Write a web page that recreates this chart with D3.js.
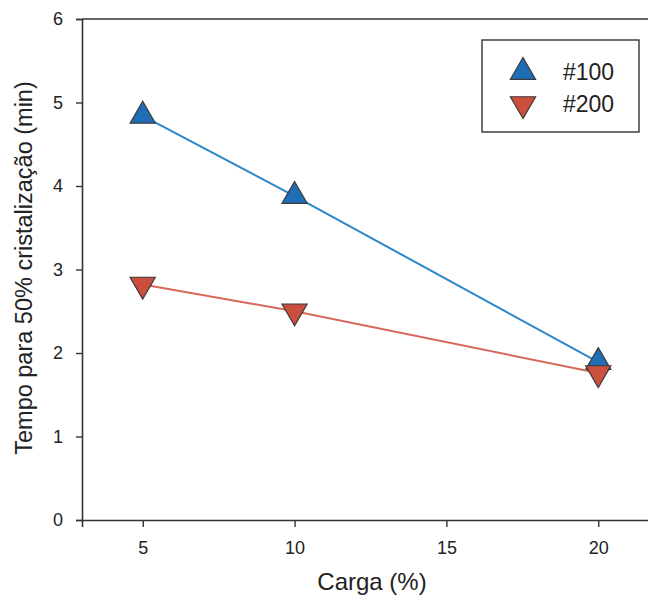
<!DOCTYPE html>
<html><head><meta charset="utf-8">
<script src="https://d3js.org/d3.v7.min.js"></script>
<style>body{margin:0;background:#fff;}svg{display:block;font-family:"Liberation Sans",Arial,sans-serif;}</style>
</head><body><svg id="c" width="648" height="604"></svg>
<script>
const carga = [5, 10, 20];
const s100 = [4.84, 3.88, 1.89];
const s200 = [2.82, 2.5, 1.76];
const seriesNames = ["#100", "#200"];
const xTicks = [5, 10, 15, 20];
const yTicks = [0, 1, 2, 3, 4, 5, 6];

const svg = d3.select("#c");
const x = d3.scaleLinear().domain([3, 22]).range([82, 659]);
const y = d3.scaleLinear().domain([0, 6]).range([520, 19]);
const ink = "#333";
const ff = '"Liberation Sans",Arial,sans-serif';

// top border
svg.append("line").attr("x1", x(3)).attr("x2", x(22)).attr("y1", y(6)).attr("y2", y(6)).attr("stroke", ink).attr("stroke-width", 1.6);

const gx = svg.append("g").attr("transform", `translate(0,${y(0)})`)
  .call(d3.axisBottom(x).tickValues(xTicks).tickFormat(d3.format("d")).tickSizeOuter(0).tickSize(7).tickPadding(14));
const gy = svg.append("g").attr("transform", `translate(${x(3)},0)`)
  .call(d3.axisLeft(y).tickValues(yTicks).tickFormat(d3.format("d")).tickSizeOuter(0).tickSize(6).tickPadding(13));
[gx, gy].forEach(g => {
  g.attr("font-size", 18).attr("font-family", ff);
  g.select(".domain").attr("stroke", ink).attr("stroke-width", 1.6);
  g.selectAll(".tick line").attr("stroke", ink).attr("stroke-width", 1.4);
  g.selectAll(".tick text").attr("fill", "#222");
});

const series = [
  {name: seriesNames[0], vals: s100, line: "#2b87c9", fill: "#1f6db5", up: true},
  {name: seriesNames[1], vals: s200, line: "#d9685b", fill: "#cc4f3e", up: false}
];
const tri = d3.symbol().type(d3.symbolTriangle).size(275);

series.forEach(s => {
  const pts = carga.map((c, i) => [x(c), y(s.vals[i])]);
  svg.append("path").attr("d", d3.line()(pts)).attr("fill", "none").attr("stroke", s.line).attr("stroke-width", 2);
  svg.selectAll(null).data(pts).enter().append("path")
    .attr("d", tri)
    .attr("transform", d => `translate(${d[0]},${d[1]}) rotate(${s.up ? 0 : 180})`)
    .attr("fill", s.fill).attr("stroke", "#3a3a3a").attr("stroke-width", 1.2);
});

// legend
svg.append("rect").attr("x", 482).attr("y", 40).attr("width", 157).attr("height", 92)
  .attr("fill", "#fff").attr("stroke", ink).attr("stroke-width", 1.4);
series.forEach((s, i) => {
  const ly = 72 + i * 32;
  svg.append("path").attr("d", tri).attr("transform", `translate(523,${ly}) rotate(${s.up ? 0 : 180})`)
    .attr("fill", s.fill).attr("stroke", "#3a3a3a").attr("stroke-width", 1.2);
  svg.append("text").attr("x", 563).attr("y", ly + 8).text(s.name).attr("fill", "#222").style("font-size", "23px");
});

// axis titles
svg.append("text").attr("x", 372).attr("y", 590).attr("text-anchor", "middle").text("Carga (%)").attr("fill", "#222").style("font-size", "24px");
svg.append("text").attr("transform", `translate(32,268) rotate(-90)`).attr("text-anchor", "middle")
  .text("Tempo para 50% cristalização (min)").attr("fill", "#222").style("font-size", "23.5px");
</script></body></html>
